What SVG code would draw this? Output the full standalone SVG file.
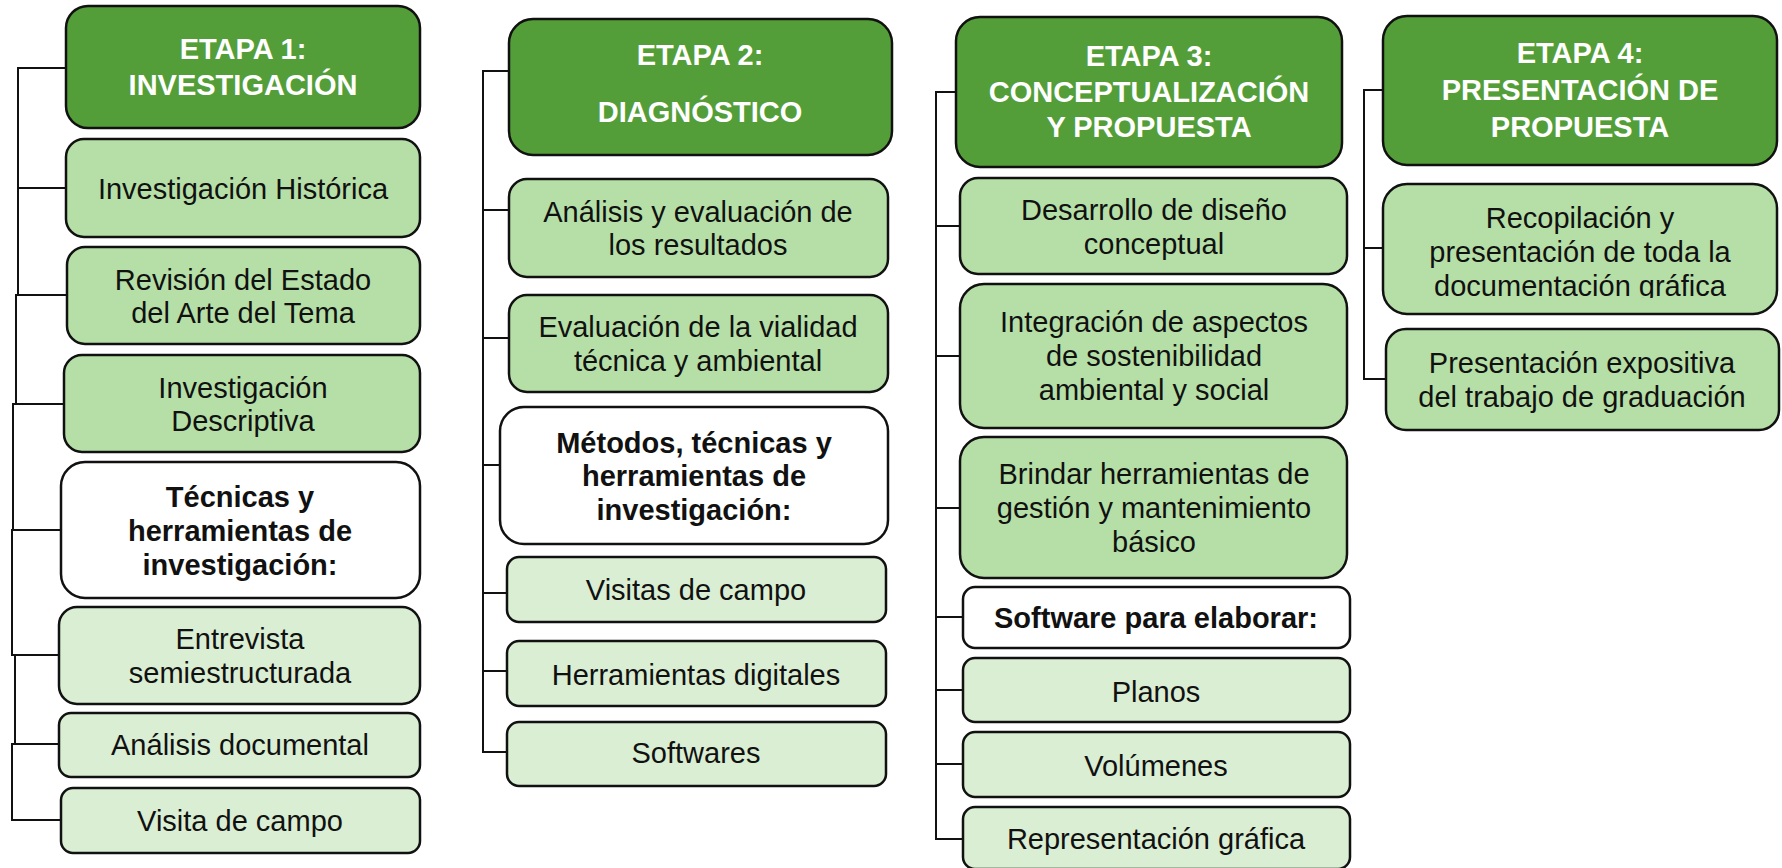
<svg xmlns="http://www.w3.org/2000/svg" width="1782" height="868" viewBox="0 0 1782 868">
<style>
.box{stroke:#111;stroke-width:2.5}
.h{fill:#549E39}
.m{fill:#B6DFA7}
.l{fill:#DAEED3}
.w{fill:#fff}
text{font-family:"Liberation Sans",Arial,sans-serif;font-size:29px;text-anchor:middle;fill:#111}
.ht{font-weight:bold;fill:#fff}
.bt{font-weight:bold}
.c{fill:none;stroke:#111;stroke-width:2}
</style>
<defs>
<clipPath id="clipRec"><rect x="1383" y="184" width="394" height="114"/></clipPath>
</defs>
<rect width="1782" height="868" fill="#fff"/>
<g id="connectors">
<path class="c" d="M66,68 H18 V188 H66"/>
<path class="c" d="M18,188 V295 H67"/>
<path class="c" d="M18,295 H16 V404 H64"/>
<path class="c" d="M16,404 H13 V530 H61"/>
<path class="c" d="M13,530 H12 V655 H62"/>
<path class="c" d="M12,655 H15 V744 H59"/>
<path class="c" d="M15,744 H12 V820 H61"/>
<path class="c" d="M509,71 H483 V210 H509"/>
<path class="c" d="M483,210 V338 H509"/>
<path class="c" d="M483,338 V465 H500"/>
<path class="c" d="M483,465 V593 H507"/>
<path class="c" d="M483,593 V671 H507"/>
<path class="c" d="M483,671 V752 H507"/>
<path class="c" d="M956,92 H936 V226 H960"/>
<path class="c" d="M936,226 V356 H960"/>
<path class="c" d="M936,356 V508 H960"/>
<path class="c" d="M936,508 V617 H966"/>
<path class="c" d="M936,617 V690 H963"/>
<path class="c" d="M936,690 V764 H963"/>
<path class="c" d="M936,764 V839 H963"/>
<path class="c" d="M1383,90 H1364 V248 H1383"/>
<path class="c" d="M1364,248 V379 H1386"/>
</g>
<g id="e1">
<rect class="box h" x="66" y="6" width="354" height="122" rx="22"/>
<text class="ht" x="243" y="59">ETAPA 1:</text>
<text class="ht" x="243" y="95">INVESTIGACIÓN</text>
</g>
<g id="e1-hist">
<rect class="box m" x="66" y="139" width="354" height="98" rx="18"/>
<text x="243" y="199">Investigación Histórica</text>
</g>
<g id="e1-rev">
<rect class="box m" x="67" y="247" width="353" height="97" rx="18"/>
<text x="243" y="290">Revisión del Estado</text>
<text x="243" y="323">del Arte del Tema</text>
</g>
<g id="e1-desc">
<rect class="box m" x="64" y="355" width="356" height="97" rx="18"/>
<text x="243" y="398">Investigación</text>
<text x="243" y="431">Descriptiva</text>
</g>
<g id="e1-tec">
<rect class="box w" x="61" y="462" width="359" height="136" rx="24"/>
<text class="bt" x="240" y="507">Técnicas y</text>
<text class="bt" x="240" y="541">herramientas de</text>
<text class="bt" x="240" y="575">investigación:</text>
</g>
<g id="e1-ent">
<rect class="box l" x="59" y="607" width="361" height="97" rx="18"/>
<text x="240" y="649">Entrevista</text>
<text x="240" y="683">semiestructurada</text>
</g>
<g id="e1-ana">
<rect class="box l" x="59" y="713" width="361" height="64" rx="12"/>
<text x="240" y="755">Análisis documental</text>
</g>
<g id="e1-vis">
<rect class="box l" x="61" y="788" width="359" height="65" rx="12"/>
<text x="240" y="831">Visita de campo</text>
</g>
<g id="e2">
<rect class="box h" x="509" y="19" width="383" height="136" rx="24"/>
<text class="ht" x="700" y="65">ETAPA 2:</text>
<text class="ht" x="700" y="122">DIAGNÓSTICO</text>
</g>
<g id="e2-ana">
<rect class="box m" x="509" y="179" width="379" height="98" rx="18"/>
<text x="698" y="222">Análisis y evaluación de</text>
<text x="698" y="255">los resultados</text>
</g>
<g id="e2-eva">
<rect class="box m" x="509" y="295" width="379" height="97" rx="18"/>
<text x="698" y="337">Evaluación de la vialidad</text>
<text x="698" y="371">técnica y ambiental</text>
</g>
<g id="e2-met">
<rect class="box w" x="500" y="407" width="388" height="137" rx="24"/>
<text class="bt" x="694" y="453">Métodos, técnicas y</text>
<text class="bt" x="694" y="486">herramientas de</text>
<text class="bt" x="694" y="520">investigación:</text>
</g>
<g id="e2-vis">
<rect class="box l" x="507" y="557" width="379" height="65" rx="12"/>
<text x="696" y="600">Visitas de campo</text>
</g>
<g id="e2-her">
<rect class="box l" x="507" y="641" width="379" height="65" rx="12"/>
<text x="696" y="685">Herramientas digitales</text>
</g>
<g id="e2-sof">
<rect class="box l" x="507" y="722" width="379" height="64" rx="12"/>
<text x="696" y="763">Softwares</text>
</g>
<g id="e3">
<rect class="box h" x="956" y="17" width="386" height="150" rx="24"/>
<text class="ht" x="1149" y="66">ETAPA 3:</text>
<text class="ht" x="1149" y="102">CONCEPTUALIZACIÓN</text>
<text class="ht" x="1149" y="137">Y PROPUESTA</text>
</g>
<g id="e3-des">
<rect class="box m" x="960" y="178" width="387" height="96" rx="18"/>
<text x="1154" y="220">Desarrollo de diseño</text>
<text x="1154" y="254">conceptual</text>
</g>
<g id="e3-int">
<rect class="box m" x="960" y="284" width="387" height="144" rx="24"/>
<text x="1154" y="332">Integración de aspectos</text>
<text x="1154" y="366">de sostenibilidad</text>
<text x="1154" y="400">ambiental y social</text>
</g>
<g id="e3-bri">
<rect class="box m" x="960" y="437" width="387" height="141" rx="24"/>
<text x="1154" y="484">Brindar herramientas de</text>
<text x="1154" y="518">gestión y mantenimiento</text>
<text x="1154" y="552">básico</text>
</g>
<g id="e3-sof">
<rect class="box w" x="963" y="587" width="387" height="61" rx="12"/>
<text class="bt" x="1156" y="628">Software para elaborar:</text>
</g>
<g id="e3-pla">
<rect class="box l" x="963" y="658" width="387" height="64" rx="12"/>
<text x="1156" y="702">Planos</text>
</g>
<g id="e3-vol">
<rect class="box l" x="963" y="732" width="387" height="65" rx="12"/>
<text x="1156" y="776">Volúmenes</text>
</g>
<g id="e3-rep">
<rect class="box l" x="963" y="807" width="387" height="62" rx="12"/>
<text x="1156" y="849">Representación gráfica</text>
</g>
<g id="e4">
<rect class="box h" x="1383" y="16" width="394" height="149" rx="24"/>
<text class="ht" x="1580" y="63">ETAPA 4:</text>
<text class="ht" x="1580" y="100">PRESENTACIÓN DE</text>
<text class="ht" x="1580" y="137">PROPUESTA</text>
</g>
<g id="e4-rec">
<rect class="box m" x="1383" y="184" width="394" height="130" rx="24"/>
<g clip-path="url(#clipRec)">
<text x="1580" y="228">Recopilación y</text>
<text x="1580" y="262">presentación de toda la</text>
<text x="1580" y="296">documentación gráfica</text>
</g>
</g>
<g id="e4-pre">
<rect class="box m" x="1386" y="329" width="393" height="101" rx="20"/>
<text x="1582" y="373">Presentación expositiva</text>
<text x="1582" y="407">del trabajo de graduación</text>
</g>
</svg>
